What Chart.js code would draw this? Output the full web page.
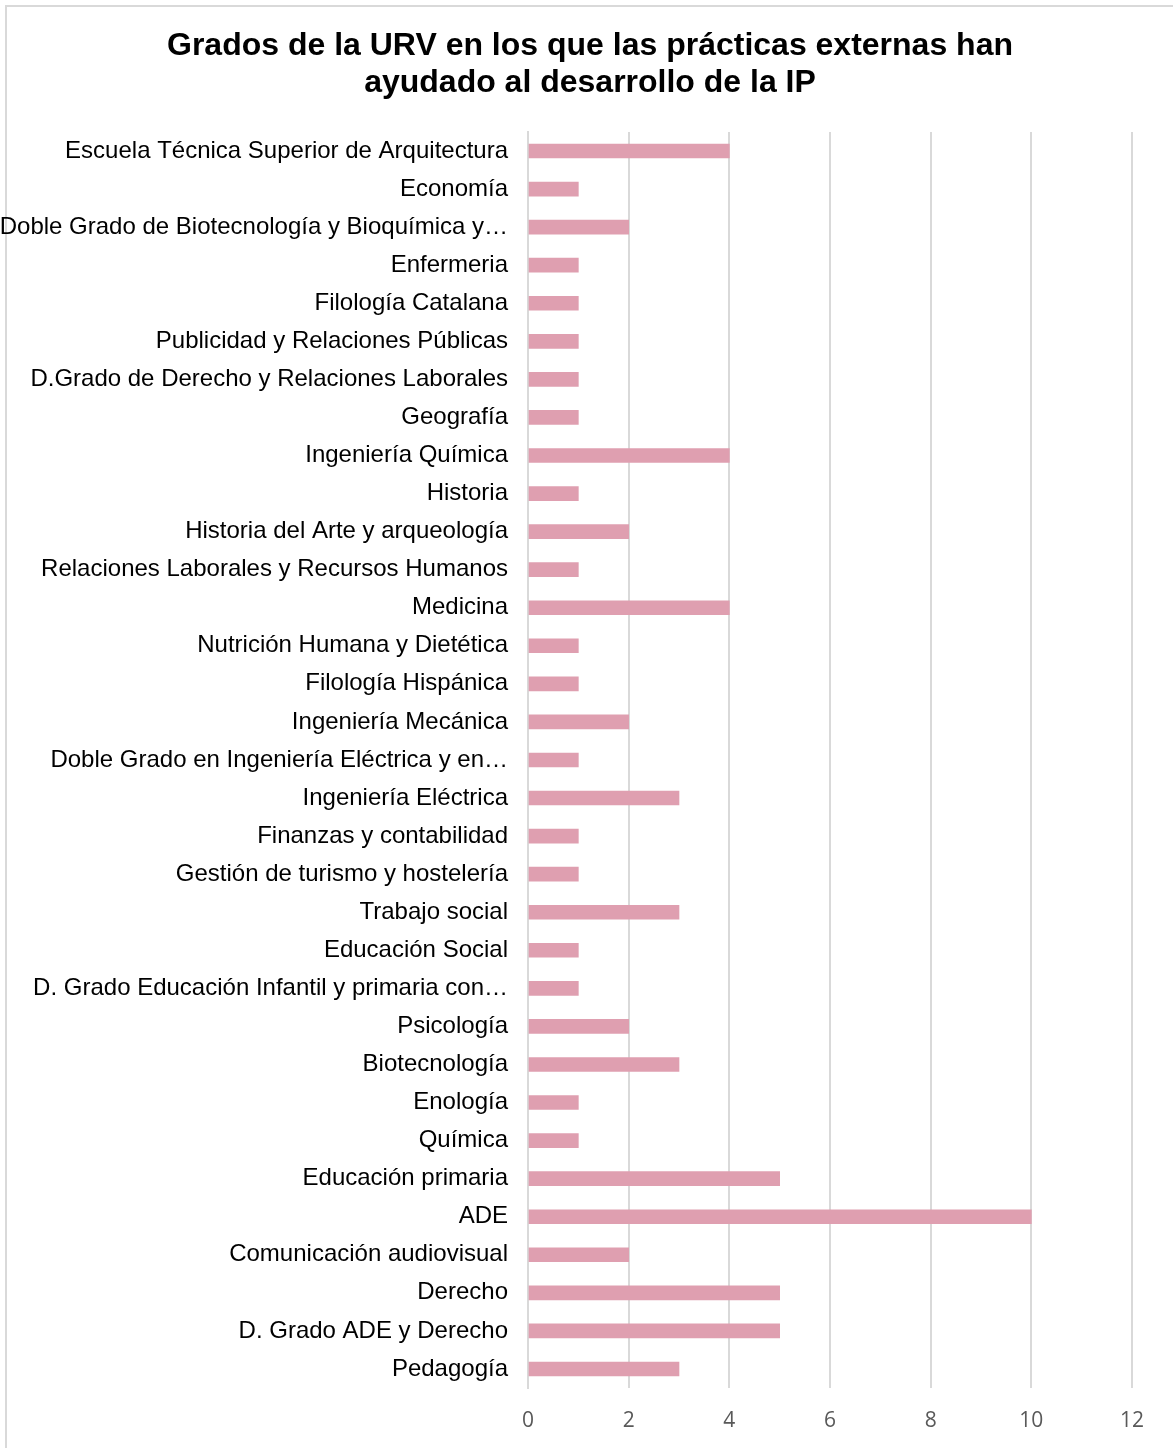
<!DOCTYPE html>
<html>
<head>
<meta charset="utf-8">
<script src="https://cdn.jsdelivr.net/npm/chart.js@4.4.1/dist/chart.umd.min.js"></script>
<style>
  html, body { margin: 0; padding: 0; background: #fff; }
  #wrap { position: relative; width: 1173px; height: 1448px; overflow: hidden; }
  #frame { position: absolute; left: 5px; top: 5px; width: 1180px; height: 1460px; border: 2px solid #d9d9d9; box-sizing: border-box; }
  #c { position: absolute; left: 0; top: 0; }
</style>
</head>
<body>
<div id="wrap">
  <div id="frame"></div>
  <canvas id="c" width="1173" height="1448"></canvas>
</div>
<script>
// Grados (en el orden del gráfico, de arriba a abajo)
const grados = [
  'Escuela Técnica Superior de Arquitectura',
  'Economía',
  'Doble Grado de Biotecnología y Bioquímica y…',
  'Enfermeria',
  'Filología Catalana',
  'Publicidad y Relaciones Públicas',
  'D.Grado de Derecho y Relaciones Laborales',
  'Geografía',
  'Ingeniería Química',
  'Historia',
  'Historia del Arte y arqueología',
  'Relaciones Laborales y Recursos Humanos',
  'Medicina',
  'Nutrición Humana y Dietética',
  'Filología Hispánica',
  'Ingeniería Mecánica',
  'Doble Grado en Ingeniería Eléctrica y en…',
  'Ingeniería Eléctrica',
  'Finanzas y contabilidad',
  'Gestión de turismo y hostelería',
  'Trabajo social',
  'Educación Social',
  'D. Grado Educación Infantil y primaria con…',
  'Psicología',
  'Biotecnología',
  'Enología',
  'Química',
  'Educación primaria',
  'ADE',
  'Comunicación audiovisual',
  'Derecho',
  'D. Grado ADE y Derecho',
  'Pedagogía'
];

// número de respuestas por grado
const respuestas = [4, 1, 2, 1, 1, 1, 1, 1, 4, 1, 2, 1, 4, 1, 1, 2, 1, 3, 1, 1, 3, 1, 1, 2, 3, 1, 1, 5, 10, 2, 5, 5, 3];

const tituloLineas = [
  'Grados de la URV en los que las prácticas externas han',
  'ayudado al desarrollo de la IP'
];

const ejeMin = 0;
const ejeMax = 12;
const ejePaso = 2;

const fuente = "Arial, 'Liberation Sans', Helvetica, sans-serif";

// el eje Y ocupa desde el borde izquierdo aunque el padding desplace el título
const ejeYCompleto = {
  id: 'ejeYCompleto',
  afterLayout(chart) {
    const y = chart.scales.y;
    y.left = 0;
    y.width = y.right;
  }
};

const ctx = document.getElementById('c').getContext('2d');
new Chart(ctx, {
  type: 'bar',
  data: {
    labels: grados,
    datasets: [{
      data: respuestas,
      backgroundColor: '#df9fb0',
      borderWidth: 0,
      barThickness: 14
    }]
  },
  plugins: [ejeYCompleto],
  options: {
    indexAxis: 'y',
    responsive: false,
    animation: false,
    layout: { padding: { left: 48, right: 41, top: 0, bottom: 0 } },
    plugins: {
      legend: { display: false },
      tooltip: { enabled: false },
      title: {
        display: true,
        text: tituloLineas,
        color: '#000',
        font: { family: fuente, size: 32, weight: 'bold', lineHeight: 1.14 },
        padding: { top: 28, bottom: 31 }
      }
    },
    scales: {
      x: {
        min: ejeMin,
        max: ejeMax,
        ticks: {
          stepSize: ejePaso,
          color: '#595959',
          padding: 20,
          font: { family: "'Liberation Sans Narrow', 'Open Sans', sans-serif", size: 21 }
        },
        grid: { color: '#d9d9d9', lineWidth: 2, drawTicks: false },
        border: { display: false },
        afterFit: (scale) => { scale.height = 60; }
      },
      y: {
        ticks: {
          color: '#000',
          padding: 20,
          autoSkip: false,
          font: { family: fuente, size: 24 }
        },
        grid: { display: false, drawTicks: false },
        border: { display: true, color: '#d9d9d9', width: 2 },
        afterFit: (scale) => { scale.width = 480; }
      }
    }
  }
});
</script>
</body>
</html>
